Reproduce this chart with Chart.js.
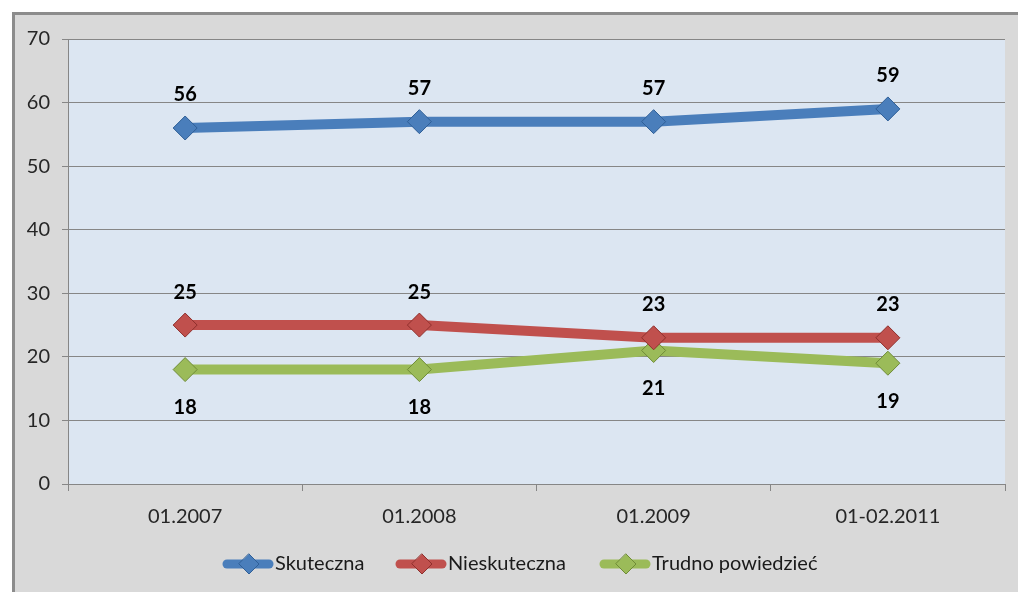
<!DOCTYPE html>
<html>
<head>
<meta charset="utf-8">
<script src="https://cdn.jsdelivr.net/npm/chart.js@4"></script>
<style>
  html, body { margin: 0; padding: 0; width: 1018px; height: 592px; overflow: hidden; background: #fff; }
  #frame { position: absolute; left: 12px; top: 12px; width: 1100px; height: 700px;
           border: 3px solid #8c8c8c; background: #d9d9d9; box-sizing: border-box; }
  #wrap { position: absolute; left: 0; top: 0; width: 1018px; height: 592px; }
</style>
</head>
<body>
<div id="frame"></div>
<div id="wrap"><canvas id="myChart" width="1018" height="592"></canvas></div>
<script>
// dane z wykresu
const categories = ['01.2007', '01.2008', '01.2009', '01-02.2011'];
const skuteczna = [56, 57, 57, 59];
const nieskuteczna = [25, 25, 23, 23];
const trudno = [18, 18, 21, 19];
const seriesNames = ['Skuteczna', 'Nieskuteczna', 'Trudno powiedzieć'];
const yTicks = [0, 10, 20, 30, 40, 50, 60, 70];

const colors = ['#4a7ebb', '#c0504d', '#9bbb59'];
const darkColors = ['#2f5f97', '#8f2f2c', '#6f8c37'];
const labelBelow = [false, false, true];

const fontName = 'Lato, "Open Sans", sans-serif';

// tlo obszaru wykresu
const plotBackground = {
    id: 'plotBackground',
    beforeDraw(chart) {
        const { ctx, chartArea } = chart;
        ctx.save();
        ctx.fillStyle = '#dce6f2';
        ctx.fillRect(chartArea.left, chartArea.top, chartArea.right - chartArea.left, chartArea.bottom - chartArea.top);
        ctx.restore();
    }
};

// etykiety wartosci nad/pod punktami
const valueLabels = {
    id: 'valueLabels',
    afterDatasetsDraw(chart) {
        const ctx = chart.ctx;
        ctx.save();
        ctx.font = 'bold 20px ' + fontName;
        ctx.fillStyle = '#000';
        ctx.textAlign = 'center';
        ctx.textBaseline = 'middle';
        chart.data.datasets.forEach((ds, i) => {
            const meta = chart.getDatasetMeta(i);
            meta.data.forEach((pt, j) => {
                const dy = labelBelow[i] ? 38 : -33;
                ctx.fillText(String(ds.data[j]), pt.x, pt.y + dy);
            });
        });
        ctx.restore();
    }
};

// legenda: linia + romb + tekst
const lineLegend = {
    id: 'lineLegend',
    afterDraw(chart) {
        const ctx = chart.ctx;
        const y = 564;
        const starts = [223, 396, 600];
        ctx.save();
        ctx.font = '20px ' + fontName;
        ctx.textBaseline = 'middle';
        chart.data.datasets.forEach((ds, i) => {
            const x = starts[i];
            ctx.strokeStyle = colors[i];
            ctx.lineWidth = 9;
            ctx.lineCap = 'round';
            ctx.beginPath();
            ctx.moveTo(x + 4, y);
            ctx.lineTo(x + 46, y);
            ctx.stroke();
            const cx = x + 26;
            ctx.fillStyle = colors[i];
            ctx.strokeStyle = darkColors[i];
            ctx.lineWidth = 1;
            ctx.beginPath();
            ctx.moveTo(cx, y - 10);
            ctx.lineTo(cx + 10, y);
            ctx.lineTo(cx, y + 10);
            ctx.lineTo(cx - 10, y);
            ctx.closePath();
            ctx.fill();
            ctx.stroke();
            ctx.fillStyle = '#1a1a1a';
            ctx.textAlign = 'left';
            ctx.fillText(ds.label, x + 52, y);
        });
        ctx.restore();
    }
};

function makeDataset(label, data, i) {
    return {
        label: label,
        data: data,
        borderColor: colors[i],
        backgroundColor: colors[i],
        borderWidth: 10,
        tension: 0,
        pointStyle: 'rectRot',
        pointRadius: 12,
        pointHoverRadius: 12,
        pointBackgroundColor: colors[i],
        pointBorderColor: darkColors[i],
        pointBorderWidth: 1
    };
}

const ctx = document.getElementById('myChart').getContext('2d');
const chart = new Chart(ctx, {
    type: 'line',
    data: {
        labels: categories,
        datasets: [
            makeDataset(seriesNames[0], skuteczna, 0),
            makeDataset(seriesNames[1], nieskuteczna, 1),
            makeDataset(seriesNames[2], trudno, 2)
        ]
    },
    options: {
        responsive: false,
        animation: false,
        layout: { padding: { top: 39, right: 12, bottom: 68, left: 0 } },
        plugins: {
            legend: { display: false },
            tooltip: { enabled: false },
            title: { display: false }
        },
        scales: {
            x: {
                offset: true,
                grid: {
                    offset: true,
                    drawOnChartArea: false,
                    drawTicks: true,
                    tickLength: 7,
                    color: '#868686'
                },
                border: { color: '#868686' },
                ticks: { color: '#262626', font: { family: fontName, size: 20 }, padding: 14, maxRotation: 0 },
                afterFit(scale) { scale.height = 40; }
            },
            y: {
                min: 0,
                max: 70,
                afterBuildTicks(scale) { scale.ticks = yTicks.map(v => ({ value: v })); },
                grid: { color: '#868686', tickLength: 6 },
                border: { color: '#868686' },
                ticks: { color: '#262626', font: { family: fontName, size: 20 }, padding: 12 },
                afterFit(scale) { scale.width = 68; }
            }
        }
    },
    plugins: [plotBackground, valueLabels, lineLegend]
});
</script>
</body>
</html>
